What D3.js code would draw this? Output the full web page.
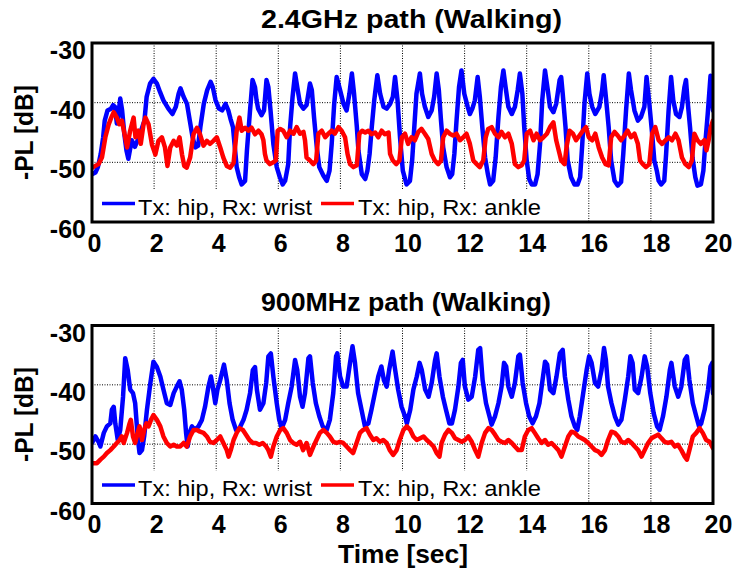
<!DOCTYPE html>
<html>
<head>
<meta charset="utf-8">
<script src="https://cdn.jsdelivr.net/npm/d3@7"></script>
<style>
  body { margin: 0; background: #fff; }
  svg { display: block; font-family: "Liberation Sans", Arial, sans-serif; }
</style>
</head>
<body>
<svg id="chart" width="735" height="571"></svg>
<script>
// Tick values and labels
const xTicks = [0, 2, 4, 6, 8, 10, 12, 14, 16, 18, 20];
const yTicks = [-60, -50, -40, -30];
const titles = ["2.4GHz path (Walking)", "900MHz path (Walking)"];
const seriesNames = ["Tx: hip, Rx: wrist", "Tx: hip, Rx: ankle"];

// Path loss readings [time (s), -PL (dB)]
const wrist24 = [[0,-52],[0.11,-51.7],[0.19,-50.8],[0.28,-48.6],[0.36,-45.8],[0.41,-43],[0.5,-41.3],[0.61,-41],[0.68,-40.4],[0.74,-40.7],[0.8,-43.5],[0.84,-42.4],[0.91,-39.3],[0.97,-41.3],[1.04,-45.2],[1.11,-48],[1.17,-49.4],[1.22,-48],[1.28,-46.3],[1.38,-47.4],[1.47,-46.3],[1.58,-44.7],[1.69,-43],[1.76,-39],[1.87,-36.8],[1.98,-36],[2.09,-36.8],[2.19,-38.2],[2.3,-39.6],[2.46,-41],[2.59,-41.9],[2.7,-40.7],[2.79,-38.5],[2.85,-37.6],[2.95,-39],[3.06,-40.2],[3.15,-43],[3.24,-45.8],[3.33,-47.5],[3.42,-47.2],[3.49,-44.1],[3.6,-40.2],[3.71,-37.9],[3.82,-36.5],[3.89,-37.4],[3.98,-39.6],[4.09,-41],[4.19,-41.3],[4.3,-40.2],[4.39,-41.3],[4.46,-42.7],[4.54,-44.1],[4.6,-47.5],[4.66,-50.8],[4.74,-52.5],[4.82,-53.7],[4.93,-53.1],[4.99,-48],[5.09,-41.3],[5.17,-36.2],[5.25,-37.4],[5.3,-39.6],[5.35,-41],[5.46,-42.1],[5.54,-41.3],[5.62,-36.2],[5.68,-37.4],[5.75,-41.3],[5.84,-46.9],[5.95,-50.8],[6.05,-52.5],[6.14,-53.7],[6.22,-53.1],[6.32,-50.3],[6.38,-44.1],[6.46,-39],[6.54,-35.1],[6.61,-37.4],[6.7,-40.2],[6.81,-41],[6.91,-40.4],[7.02,-36.8],[7.08,-37.9],[7.15,-42.4],[7.24,-47.5],[7.32,-50.8],[7.45,-52.2],[7.56,-53.1],[7.65,-51.4],[7.72,-46.9],[7.8,-40.2],[7.88,-35.7],[7.99,-37.9],[8.1,-40.2],[8.2,-41.3],[8.29,-38.5],[8.37,-35.1],[8.44,-38.5],[8.53,-44.1],[8.58,-48],[8.69,-52],[8.8,-52.8],[8.87,-51.4],[8.94,-48.6],[9.01,-44.1],[9.09,-39.6],[9.19,-35.4],[9.28,-38.5],[9.39,-40.7],[9.49,-41],[9.6,-40.2],[9.69,-39],[9.76,-35.7],[9.84,-39.6],[9.92,-45.8],[10.01,-51.4],[10.13,-53.7],[10.24,-53.1],[10.31,-49.7],[10.38,-44.1],[10.45,-38.5],[10.56,-35.1],[10.63,-38.5],[10.72,-40.7],[10.83,-42.4],[10.94,-41.3],[11.02,-39],[11.1,-35.1],[11.17,-37.9],[11.24,-43],[11.31,-47.5],[11.42,-50.8],[11.53,-52.5],[11.6,-52],[11.67,-48.6],[11.74,-43],[11.82,-37.4],[11.9,-34.6],[11.99,-38.5],[12.1,-40.7],[12.17,-41.9],[12.25,-41],[12.33,-39.6],[12.42,-35.7],[12.49,-39],[12.57,-44.1],[12.66,-49.2],[12.75,-52],[12.82,-53.7],[12.92,-53.1],[13.0,-49.2],[13.09,-42.4],[13.17,-37.4],[13.25,-34.6],[13.32,-37.4],[13.41,-40.7],[13.52,-41.9],[13.62,-40.7],[13.71,-37.9],[13.78,-35.1],[13.86,-38.5],[13.92,-44.1],[14.0,-49.7],[14.08,-52.8],[14.16,-53.7],[14.27,-53.7],[14.35,-52],[14.43,-46.9],[14.5,-39.6],[14.59,-34.6],[14.68,-37.9],[14.75,-40.7],[14.86,-41.6],[14.95,-40.2],[15.06,-36.2],[15.11,-35.7],[15.16,-38.5],[15.25,-44.1],[15.32,-49.7],[15.43,-52.5],[15.54,-53.7],[15.64,-53.7],[15.72,-52.5],[15.79,-46.9],[15.86,-40.2],[15.95,-35.1],[16.02,-38.5],[16.11,-40.7],[16.21,-41.9],[16.34,-40.7],[16.43,-37.9],[16.48,-35.4],[16.56,-39.6],[16.64,-44.1],[16.72,-49.7],[16.83,-53.1],[16.93,-53.9],[17.04,-53.3],[17.11,-48.6],[17.2,-41.3],[17.29,-35.1],[17.36,-37.9],[17.47,-41.3],[17.58,-43],[17.68,-42.4],[17.79,-40.7],[17.86,-35.7],[17.95,-40.2],[18.04,-45.2],[18.11,-49.7],[18.19,-51.4],[18.25,-53.1],[18.33,-53.7],[18.43,-53.1],[18.49,-48.6],[18.57,-41.3],[18.65,-35.7],[18.72,-39.6],[18.81,-41.9],[18.92,-42.4],[19.0,-40.7],[19.08,-37.4],[19.13,-36.2],[19.18,-39.6],[19.26,-44.1],[19.34,-49.2],[19.43,-52.5],[19.5,-53.9],[19.61,-53.7],[19.69,-51.4],[19.75,-46.9],[19.83,-41.9],[19.92,-35.5],[19.96,-39],[20.0,-41.3]];

const ankle24 = [[0,-50.9],[0.21,-50.3],[0.32,-49.2],[0.43,-45.8],[0.54,-43.6],[0.62,-42.5],[0.7,-41.6],[0.8,-42.5],[0.88,-43.6],[0.96,-43],[1.07,-45.8],[1.13,-47.5],[1.23,-44.7],[1.34,-42.5],[1.4,-45.8],[1.5,-44.7],[1.57,-46.9],[1.66,-43.6],[1.72,-42.5],[1.82,-43.6],[1.93,-47],[2.04,-48.7],[2.14,-46.4],[2.25,-45.8],[2.35,-47.5],[2.43,-50.6],[2.52,-47.5],[2.63,-46.4],[2.73,-47.2],[2.82,-45.8],[2.9,-48.7],[2.97,-50.6],[3.05,-50.9],[3.16,-49.2],[3.27,-45.3],[3.38,-44.2],[3.48,-45.3],[3.59,-47.2],[3.7,-46.4],[3.8,-46.9],[3.91,-46.4],[4.02,-45.8],[4.13,-47.5],[4.23,-49.2],[4.34,-50.6],[4.45,-50.9],[4.56,-50.1],[4.66,-44.7],[4.75,-42.5],[4.82,-44.7],[4.93,-44.2],[5.04,-44.7],[5.14,-44.2],[5.25,-45.3],[5.36,-44.7],[5.46,-45.3],[5.52,-46.3],[5.57,-48.6],[5.62,-49.7],[5.73,-50.3],[5.84,-50],[5.92,-49.7],[5.98,-44.7],[6.06,-44.4],[6.16,-44.7],[6.27,-45.8],[6.38,-44.7],[6.49,-45.2],[6.59,-44.1],[6.7,-45.2],[6.81,-44.9],[6.86,-46.3],[6.91,-49.2],[7.02,-49.7],[7.13,-50.3],[7.22,-49.7],[7.29,-45.2],[7.4,-44.7],[7.51,-45.8],[7.61,-45.2],[7.72,-44.7],[7.82,-45.2],[7.94,-44.1],[8.04,-44.7],[8.15,-45.8],[8.23,-48.6],[8.31,-50.3],[8.42,-50.8],[8.53,-50.5],[8.61,-45.2],[8.7,-44.7],[8.8,-45],[8.9,-44.7],[9.0,-45.3],[9.12,-45],[9.22,-45.8],[9.33,-44.7],[9.43,-45.3],[9.55,-45],[9.6,-48.6],[9.69,-49.7],[9.8,-50.3],[9.9,-49.7],[9.98,-45.8],[10.08,-45.2],[10.18,-46.9],[10.29,-45.8],[10.4,-46.3],[10.51,-44.9],[10.61,-44.4],[10.72,-45.2],[10.83,-46.1],[10.94,-48.6],[11.04,-49.7],[11.15,-50.3],[11.24,-49.7],[11.31,-45.8],[11.42,-44.7],[11.52,-45.2],[11.63,-45.5],[11.74,-45.2],[11.85,-46.3],[11.96,-45.8],[12.06,-45.2],[12.17,-46.9],[12.28,-49.7],[12.39,-50.3],[12.49,-50.8],[12.6,-49.7],[12.68,-45.8],[12.76,-44.4],[12.87,-44.1],[12.98,-45.2],[13.09,-45.8],[13.19,-44.9],[13.3,-45.8],[13.41,-45.2],[13.52,-46.9],[13.62,-50.3],[13.73,-50.8],[13.84,-50.5],[13.92,-49.7],[14.0,-45.2],[14.11,-44.7],[14.22,-46.3],[14.32,-45.2],[14.43,-46.3],[14.54,-45.8],[14.65,-45.2],[14.75,-44.1],[14.86,-43.3],[14.95,-46.3],[15.06,-48.6],[15.11,-49.7],[15.22,-50.3],[15.29,-47.2],[15.38,-44.7],[15.49,-45.2],[15.59,-46.3],[15.7,-45.5],[15.81,-44.7],[15.91,-44.1],[16.0,-45.8],[16.11,-46.3],[16.21,-45.2],[16.32,-47.5],[16.43,-49.2],[16.54,-50.3],[16.64,-50.5],[16.72,-45.8],[16.83,-44.9],[16.93,-45.5],[17.04,-46.3],[17.15,-45.5],[17.25,-44.7],[17.36,-45.8],[17.47,-45.2],[17.58,-46.9],[17.65,-49.7],[17.74,-50.3],[17.84,-50.8],[17.95,-50.3],[18.04,-45.2],[18.14,-44.1],[18.25,-46.3],[18.36,-46.9],[18.47,-46.3],[18.57,-45.8],[18.68,-46.3],[18.79,-45.2],[18.89,-46.3],[19.0,-49.2],[19.11,-50.3],[19.22,-50.8],[19.32,-49.7],[19.4,-45.2],[19.5,-46.3],[19.61,-46.9],[19.72,-46.3],[19.79,-48],[19.86,-46.3],[19.93,-44.1],[20.0,-43]];

const wrist900 = [[0,-49.8],[0.11,-48.7],[0.21,-49.6],[0.27,-50.4],[0.38,-48.1],[0.48,-47],[0.59,-46.5],[0.64,-44.2],[0.7,-43.7],[0.75,-46.5],[0.83,-49.3],[0.91,-47.6],[1.0,-42],[1.07,-35.5],[1.15,-37.5],[1.23,-40.8],[1.32,-41.4],[1.39,-43.1],[1.47,-48.7],[1.53,-51.5],[1.61,-51],[1.68,-48.7],[1.77,-44.2],[1.88,-39.7],[1.98,-36.1],[2.09,-37],[2.2,-38.6],[2.3,-40.8],[2.41,-43.1],[2.52,-43.4],[2.63,-41.4],[2.73,-40.3],[2.82,-39.4],[2.89,-40.8],[2.97,-44.2],[3.03,-48.1],[3.08,-50.4],[3.14,-48.1],[3.22,-47],[3.32,-47.6],[3.43,-47],[3.54,-45.9],[3.64,-43.7],[3.75,-40.3],[3.83,-38.6],[3.89,-40.3],[3.97,-43.1],[4.04,-40.8],[4.13,-39.2],[4.25,-36.6],[4.34,-39.2],[4.43,-43.1],[4.53,-45.9],[4.64,-47.6],[4.75,-47.3],[4.88,-45.9],[4.98,-44.2],[5.09,-41.4],[5.18,-37.5],[5.25,-37],[5.31,-40.8],[5.41,-44.2],[5.52,-43.1],[5.61,-39.7],[5.68,-35.2],[5.76,-34.7],[5.84,-38.6],[5.95,-43.1],[6.03,-45.9],[6.11,-47.3],[6.22,-45.9],[6.32,-43.1],[6.43,-40.3],[6.54,-35.8],[6.61,-37.5],[6.7,-42],[6.78,-43.7],[6.86,-41.4],[6.97,-35.5],[7.02,-35.2],[7.11,-39.7],[7.21,-43.1],[7.32,-45.3],[7.43,-47],[7.56,-47.6],[7.66,-45.9],[7.77,-41.4],[7.86,-35.2],[7.9,-34.7],[7.99,-38.6],[8.09,-40.3],[8.2,-40.3],[8.31,-36.3],[8.39,-33.5],[8.47,-36.3],[8.57,-41.4],[8.68,-44.2],[8.79,-47],[8.9,-46.5],[9.0,-44.2],[9.11,-41.4],[9.22,-38.6],[9.32,-36.9],[9.4,-39.2],[9.49,-40.3],[9.57,-37.5],[9.68,-34.4],[9.75,-37],[9.86,-40.8],[9.97,-43.7],[10.08,-45.3],[10.14,-46.5],[10.25,-44.2],[10.35,-40.8],[10.46,-38.6],[10.55,-36.3],[10.62,-37.5],[10.73,-40.8],[10.84,-42],[10.94,-39.7],[11.05,-35.8],[11.1,-34.7],[11.19,-38.6],[11.3,-42],[11.4,-44.2],[11.51,-46.5],[11.59,-46.5],[11.69,-44.2],[11.8,-40.3],[11.88,-36.3],[11.94,-35.8],[12.01,-40.3],[12.12,-42.5],[12.23,-42],[12.34,-38.6],[12.44,-34.1],[12.5,-33.8],[12.58,-39.2],[12.69,-43.1],[12.8,-45.3],[12.87,-46.7],[12.98,-45.3],[13.09,-43.1],[13.19,-40.3],[13.27,-36.3],[13.34,-36.9],[13.41,-40.3],[13.52,-42],[13.62,-39.7],[13.73,-35.2],[13.78,-34.9],[13.87,-39.7],[13.98,-43.1],[14.08,-45.3],[14.19,-46.5],[14.3,-45.3],[14.41,-43.1],[14.51,-39.2],[14.59,-36.1],[14.66,-36.6],[14.75,-40.8],[14.86,-41.4],[14.96,-38.6],[15.07,-34.7],[15.16,-34.1],[15.23,-38.6],[15.34,-42.5],[15.44,-45.3],[15.55,-47],[15.63,-47.6],[15.71,-45.3],[15.82,-41.4],[15.93,-37.5],[16.01,-35.2],[16.09,-36.3],[16.2,-39.7],[16.3,-40.3],[16.41,-37.5],[16.49,-33.8],[16.55,-35.8],[16.62,-40.3],[16.73,-43.1],[16.84,-45.3],[16.95,-46.7],[17.05,-45.9],[17.16,-42.5],[17.27,-38.6],[17.34,-35.2],[17.41,-36.3],[17.48,-40.8],[17.59,-41.4],[17.7,-38.6],[17.8,-35.2],[17.88,-36.9],[17.98,-41.4],[18.09,-44.8],[18.2,-47],[18.28,-47.6],[18.39,-45.3],[18.5,-42],[18.61,-37.5],[18.66,-36.3],[18.77,-40.3],[18.88,-42],[18.98,-40.3],[19.09,-35.8],[19.16,-35.2],[19.24,-39.2],[19.35,-43.1],[19.46,-45.3],[19.55,-47],[19.62,-46.5],[19.73,-44.2],[19.84,-40.8],[19.92,-36.9],[19.98,-36.3],[20.0,-41.4]];

const ankle900 = [[0,-53.2],[0.16,-53.2],[0.27,-52.6],[0.38,-52.1],[0.48,-51.5],[0.59,-51],[0.7,-50.4],[0.8,-49.8],[0.89,-49.3],[0.96,-48.7],[1.02,-49.8],[1.13,-48.1],[1.21,-46.5],[1.25,-45.9],[1.32,-48.7],[1.39,-49.8],[1.47,-48.1],[1.53,-47],[1.61,-49.3],[1.68,-47.6],[1.75,-46.5],[1.82,-47],[1.9,-45.9],[1.98,-45.1],[2.09,-45.9],[2.2,-47],[2.3,-48.7],[2.41,-49.8],[2.52,-50.4],[2.63,-50.1],[2.73,-50.4],[2.84,-50.4],[2.95,-49.8],[3.05,-50.4],[3.16,-48.7],[3.27,-47.6],[3.38,-47.6],[3.48,-47.9],[3.59,-48.1],[3.7,-48.7],[3.8,-49.6],[3.91,-49.8],[4.02,-49.3],[4.13,-48.7],[4.23,-49.8],[4.34,-51],[4.4,-52.1],[4.47,-51],[4.56,-49.3],[4.66,-48.1],[4.75,-47.3],[4.86,-47.6],[4.96,-48.4],[5.07,-49.3],[5.18,-49.8],[5.28,-49.8],[5.39,-50.1],[5.5,-49.8],[5.61,-50.4],[5.68,-51],[5.76,-52.1],[5.84,-50.4],[5.95,-48.7],[6.06,-47.6],[6.16,-47.3],[6.27,-48.1],[6.38,-49.3],[6.48,-49.8],[6.59,-50.1],[6.7,-49.6],[6.8,-51],[6.91,-49.8],[7.02,-51.8],[7.13,-50.4],[7.23,-49.3],[7.34,-48.1],[7.45,-47.6],[7.56,-48.1],[7.66,-48.7],[7.77,-49.6],[7.88,-49.8],[7.98,-49.6],[8.09,-49.8],[8.2,-50.4],[8.31,-51],[8.41,-51.5],[8.52,-49.8],[8.63,-48.1],[8.73,-47.6],[8.84,-47.3],[8.95,-48.4],[9.06,-49.3],[9.16,-49],[9.27,-49.6],[9.38,-49.3],[9.49,-49.8],[9.59,-51],[9.7,-51.8],[9.81,-51],[9.91,-49.3],[10.03,-47.6],[10.14,-47],[10.25,-47.6],[10.35,-48.7],[10.46,-49.3],[10.57,-49],[10.68,-48.7],[10.78,-49.3],[10.89,-49.8],[11.0,-50.4],[11.1,-51.5],[11.19,-52.1],[11.26,-49.8],[11.37,-48.4],[11.48,-47.6],[11.59,-48.1],[11.69,-49],[11.8,-49.3],[11.91,-49.6],[12.01,-49.3],[12.12,-48.7],[12.23,-49.6],[12.34,-51],[12.44,-52.1],[12.55,-49.8],[12.66,-48.1],[12.77,-47.3],[12.87,-47.6],[12.98,-48.4],[13.09,-49.3],[13.19,-49.6],[13.3,-49.8],[13.41,-49.3],[13.52,-49.8],[13.62,-50.4],[13.73,-51],[13.84,-51],[13.94,-48.7],[14.05,-47.6],[14.16,-47.3],[14.26,-48.1],[14.37,-49],[14.48,-49.8],[14.59,-49.3],[14.69,-50.1],[14.8,-49.8],[14.91,-50.4],[15.02,-51],[15.12,-52.1],[15.23,-50.4],[15.34,-48.7],[15.44,-47.9],[15.55,-48.1],[15.66,-48.7],[15.77,-49],[15.87,-49.3],[15.98,-49.8],[16.09,-50.4],[16.2,-51],[16.3,-51.2],[16.41,-51.8],[16.52,-51],[16.62,-49.3],[16.73,-47.9],[16.84,-48.1],[16.95,-48.7],[17.05,-49.6],[17.16,-49.8],[17.27,-49.3],[17.38,-49.8],[17.48,-50.4],[17.59,-51],[17.7,-52.1],[17.8,-51],[17.91,-49.8],[18.02,-49],[18.12,-48.7],[18.23,-48.4],[18.34,-49],[18.44,-49.6],[18.55,-49.8],[18.66,-49.6],[18.77,-50.4],[18.87,-50.1],[18.98,-51],[19.09,-52.1],[19.16,-52.6],[19.24,-51],[19.35,-48.7],[19.46,-48.1],[19.57,-47.3],[19.67,-48.1],[19.78,-49.3],[19.89,-49.6],[20.0,-50.7]];

const colors = {
  wrist: "#0000ff",
  ankle: "#ff0000",
  grid: "#000",
  text: "#000"
};

const font = '"Liberation Sans", Arial, sans-serif';

const svg = d3.select("#chart");
const x = d3.scaleLinear().domain([0, 20]).range([92, 713]);

// Draw one subplot
function drawPanel(p) {
  const y = d3.scaleLinear().domain([-60, -30]).range([p.bottom, p.top]);
  const g = svg.append("g");

  // dotted grid
  g.selectAll(".vgrid")
    .data(xTicks.slice(1, -1))
    .enter().append("line")
    .attr("x1", d => x(d)).attr("x2", d => x(d))
    .attr("y1", p.top).attr("y2", p.bottom)
    .attr("stroke", colors.grid)
    .attr("stroke-width", 1)
    .attr("stroke-dasharray", "1,1.5");

  g.selectAll(".hgrid")
    .data(yTicks.slice(1, -1))
    .enter().append("line")
    .attr("x1", x(0)).attr("x2", x(20))
    .attr("y1", d => y(d)).attr("y2", d => y(d))
    .attr("stroke", colors.grid)
    .attr("stroke-width", 1)
    .attr("stroke-dasharray", "1,1.5");

  // clip for the traces
  svg.append("clipPath").attr("id", p.id + "-clip")
    .append("rect")
    .attr("x", x(0)).attr("y", p.top)
    .attr("width", x(20) - x(0)).attr("height", p.bottom - p.top);

  const line = d3.line()
    .x(d => x(d[0]))
    .y(d => y(d[1]));

  const traces = g.append("g").attr("clip-path", `url(#${p.id}-clip)`);
  [[p.wrist, colors.wrist], [p.ankle, colors.ankle]].forEach(([data, c]) => {
    traces.append("path")
      .datum(data)
      .attr("d", line)
      .attr("fill", "none")
      .attr("stroke", c)
      .attr("stroke-width", 4.5)
      .attr("stroke-linejoin", "round")
      .attr("stroke-linecap", "round");
  });

  // legend
  const lg = g.append("g");
  lg.append("rect")
    .attr("x", x(0)).attr("y", p.bottom - 33)
    .attr("width", 566 - x(0)).attr("height", 33)
    .attr("fill", "#fff");
  const items = [
    { name: seriesNames[0], color: colors.wrist, x0: 102, tx: 138, len: 174 },
    { name: seriesNames[1], color: colors.ankle, x0: 321, tx: 358, len: 183 }
  ];
  items.forEach(it => {
    lg.append("line")
      .attr("x1", it.x0).attr("x2", it.x0 + 33)
      .attr("y1", p.bottom - 18.5).attr("y2", p.bottom - 18.5)
      .attr("stroke", it.color).attr("stroke-width", 3.5);
    lg.append("text")
      .attr("x", it.tx).attr("y", p.bottom - 7.5)
      .attr("font-size", 22.5)
      .attr("textLength", it.len)
      .attr("lengthAdjust", "spacingAndGlyphs")
      .attr("fill", colors.text)
      .text(it.name);
  });

  // axes (labels only, MATLAB-like), plain hyphen for minus
  const yAxis = g.append("g")
    .attr("transform", `translate(${x(0)},0)`)
    .call(d3.axisLeft(y).tickValues(yTicks).tickFormat(d => String(d)).tickSize(0).tickPadding(6));
  yAxis.select(".domain").remove();
  yAxis.selectAll("text")
    .attr("dy", "0.62em")
    .attr("font-size", 25)
    .attr("font-weight", "bold")
    .attr("font-family", font)
    .attr("fill", colors.text);

  const xAxis = g.append("g")
    .attr("transform", `translate(0,${p.bottom})`)
    .call(d3.axisBottom(x).tickValues(xTicks).tickFormat(d => String(d)).tickSize(0).tickPadding(12));
  xAxis.select(".domain").remove();
  xAxis.selectAll("text")
    .attr("dx", d => d >= 10 ? 5 : 2)
    .attr("font-size", 25)
    .attr("font-weight", "bold")
    .attr("font-family", font)
    .attr("fill", colors.text);

  // box
  g.append("rect")
    .attr("x", x(0)).attr("y", p.top)
    .attr("width", x(20) - x(0)).attr("height", p.bottom - p.top)
    .attr("fill", "none")
    .attr("stroke", "#000")
    .attr("stroke-width", 3);

  // title
  g.append("text")
    .attr("x", 261).attr("y", p.top - 15)
    .attr("font-size", 25)
    .attr("font-weight", "bold")
    .attr("textLength", p.titleLen)
    .attr("lengthAdjust", "spacingAndGlyphs")
    .attr("fill", colors.text)
    .text(p.title);

  // y label
  const cy = (p.top + p.bottom) / 2;
  g.append("text")
    .attr("transform", `translate(33,${cy}) rotate(-90)`)
    .attr("text-anchor", "middle")
    .attr("font-size", 25)
    .attr("font-weight", "bold")
    .attr("textLength", 95)
    .attr("lengthAdjust", "spacingAndGlyphs")
    .attr("fill", colors.text)
    .text("-PL [dB]");
}

function main() {
  drawPanel({ id: "p24", top: 43, bottom: 222, title: titles[0], titleLen: 301, wrist: wrist24, ankle: ankle24 });
  drawPanel({ id: "p900", top: 325.5, bottom: 503.5, title: titles[1], titleLen: 290, wrist: wrist900, ankle: ankle900 });

  svg.append("text")
    .attr("x", 403).attr("y", 563)
    .attr("text-anchor", "middle")
    .attr("font-size", 25)
    .attr("font-weight", "bold")
    .attr("textLength", 130)
    .attr("lengthAdjust", "spacingAndGlyphs")
    .attr("fill", colors.text)
    .text("Time [sec]");
}

main();
</script>
</body>
</html>
